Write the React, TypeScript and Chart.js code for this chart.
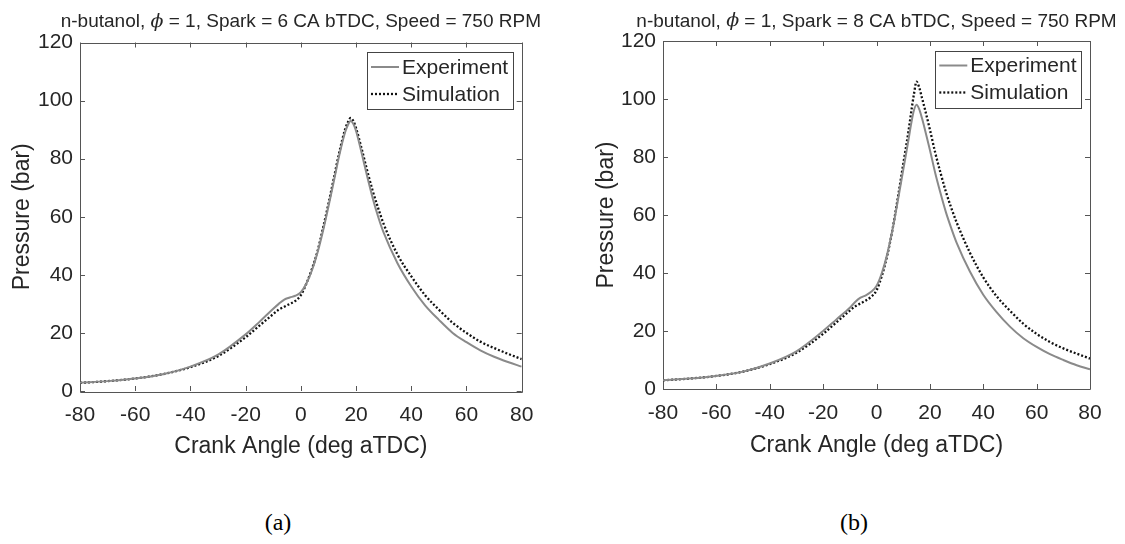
import React, { useEffect, useRef } from "react";
import { Chart, registerables } from "chart.js";

Chart.register(...registerables);

// ---- data ----
const crankAngle = [
  -80, -70, -60, -50, -40, -30, -20, -15, -10, -8, -6, -4, -2, 0, 2, 4, 6, 8, 10, 12, 14, 16, 17, 18, 19, 20,
  22, 24, 26, 28, 30, 35, 40, 45, 50, 55, 60, 65, 70, 75, 80,
];
const experimentA = [
  2.8, 3.4, 4.3, 5.8, 8.4, 12.5, 19.5, 23.8, 28.3, 30.0, 31.5, 32.2, 32.8, 34.0, 37.0, 41.5, 47.5, 55.0, 63.5,
  72.5, 81.5, 89.0, 91.5, 93.0, 92.0, 89.5, 82.0, 74.0, 66.5, 60.0, 54.5, 44.0, 36.0, 29.5, 24.5, 20.0, 16.8,
  14.0, 11.8, 10.0, 8.4,
];
const simulationA = [
  2.8, 3.4, 4.3, 5.8, 8.2, 12.0, 18.5, 22.5, 26.5, 28.0, 29.0, 30.0, 31.0, 33.0, 37.0, 42.0, 48.0, 56.0, 64.5,
  73.5, 82.5, 90.0, 92.5, 94.0, 93.0, 90.5, 83.5, 76.0, 69.0, 63.0, 57.5, 47.0, 39.5, 33.0, 28.0, 23.5, 20.0,
  17.0, 14.8, 12.8, 11.0,
];
const crankAngleB = [
  -80, -70, -60, -50, -40, -30, -20, -15, -10, -8, -6, -4, -2, 0, 2, 4, 6, 8, 10, 12, 13, 14, 15, 16, 17, 18,
  20, 22, 24, 26, 28, 30, 35, 40, 45, 50, 55, 60, 65, 70, 75, 80,
];
const experimentB = [
  3.0, 3.6, 4.5, 6.0, 8.8, 13.0, 20.0, 24.0, 28.0, 30.0, 31.5, 32.3, 33.5, 35.5, 40.0, 46.5, 55.0, 65.0, 75.5,
  86.0, 91.5, 96.0, 98.0, 96.5, 93.5, 90.0, 82.5, 74.5, 67.5, 61.0, 55.5, 50.5, 40.5, 32.5, 26.5, 21.5, 17.5,
  14.5, 12.0, 10.0, 8.2, 6.8,
];
const simulationB = [
  3.0, 3.6, 4.5, 6.0, 8.6, 12.5, 19.0, 23.0, 27.0, 28.5, 29.5, 30.5, 31.8, 34.0, 39.0, 46.0, 55.0, 66.0, 77.5,
  89.0, 95.5, 101.5, 106.0, 104.0, 100.5, 97.0, 89.5, 81.5, 74.5, 68.0, 62.5, 57.5, 47.0, 38.5, 32.0, 27.0,
  22.5, 19.0, 16.2, 14.0, 12.2, 10.5,
];
const seriesNames = ["Experiment", "Simulation"];
const titleA = ["n-butanol, ", "\u03d5", " = 1, Spark = 6 CA bTDC, Speed = 750 RPM"];
const titleB = ["n-butanol, ", "\u03d5", " = 1, Spark = 8 CA bTDC, Speed = 750 RPM"];
const xTitle = "Crank Angle (deg aTDC)";
const yTitle = "Pressure (bar)";
const xRange = [-80, 80];
const yRange = [0, 120];
const tickStep = 20;

const FONT = "'Liberation Sans', Arial, Helvetica, sans-serif";
const AXIS_COLOR = "#555555";
const TEXT_COLOR = "#262626";

const boxPlugin = {
  id: "matlabBox",
  beforeDatasetsDraw(chart: any) {
    const { ctx, chartArea: a, scales } = chart;
    ctx.save();
    ctx.strokeStyle = AXIS_COLOR;
    ctx.lineWidth = 1;
    ctx.beginPath();
    ctx.rect(Math.round(a.left) + 0.5, Math.round(a.top) + 0.5, Math.round(a.right - a.left), Math.round(a.bottom - a.top));
    ctx.stroke();
    const tl = 5;
    ctx.beginPath();
    scales.x.ticks.forEach((t: any) => {
      const px = Math.round(scales.x.getPixelForValue(t.value)) + 0.5;
      ctx.moveTo(px, a.bottom);
      ctx.lineTo(px, a.bottom - tl);
      ctx.moveTo(px, a.top);
      ctx.lineTo(px, a.top + tl);
    });
    scales.y.ticks.forEach((t: any) => {
      const py = Math.round(scales.y.getPixelForValue(t.value)) + 0.5;
      ctx.moveTo(a.left, py);
      ctx.lineTo(a.left + tl, py);
      ctx.moveTo(a.right, py);
      ctx.lineTo(a.right - tl, py);
    });
    ctx.stroke();
    ctx.restore();
  },
};

const titlePlugin = {
  id: "mixedTitle",
  afterDraw(chart: any, _args: any, opts: any) {
    const parts: string[] = opts.parts || [];
    const { ctx, chartArea: a } = chart;
    ctx.save();
    const normal = `19px ${FONT}`;
    const italic = `italic 19px 'DejaVu Serif', 'Liberation Serif', serif`;
    const fonts = parts.map((_p, i) => (i === 1 ? italic : normal));
    let total = 0;
    const widths = parts.map((p, i) => {
      ctx.font = fonts[i];
      const w = ctx.measureText(p).width;
      total += w;
      return w;
    });
    let x = (a.left + a.right) / 2 - total / 2;
    ctx.fillStyle = TEXT_COLOR;
    ctx.textBaseline = "middle";
    ctx.textAlign = "left";
    parts.forEach((p, i) => {
      ctx.font = fonts[i];
      ctx.fillText(p, x, opts.y);
      x += widths[i];
    });
    ctx.restore();
  },
};

const legendPlugin = {
  id: "insideLegend",
  afterDatasetsDraw(chart: any) {
    const { ctx, chartArea: a } = chart;
    const ds = chart.data.datasets;
    ctx.save();
    ctx.font = `21px ${FONT}`;
    let tw = 0;
    ds.forEach((d: any) => (tw = Math.max(tw, ctx.measureText(d.label).width)));
    const lineLen = 28;
    const w = 4 + lineLen + 3 + tw + 5;
    const rowH = 27;
    const h = 15 * 2 + rowH * (ds.length - 1);
    const right = a.right - 8.5;
    const top = a.top + 9.5;
    const left = right - w;
    ctx.fillStyle = "#ffffff";
    ctx.fillRect(left, top, w, h);
    ctx.strokeStyle = "#444444";
    ctx.lineWidth = 1;
    ctx.strokeRect(Math.round(left) + 0.5, Math.round(top) + 0.5, Math.round(w), Math.round(h));
    ds.forEach((d: any, i: number) => {
      const y = top + 15 + i * rowH;
      ctx.beginPath();
      ctx.strokeStyle = d.borderColor;
      ctx.lineWidth = d.borderWidth;
      ctx.setLineDash(d.borderDash || []);
      ctx.moveTo(left + 4, y);
      ctx.lineTo(left + 4 + lineLen, y);
      ctx.stroke();
      ctx.setLineDash([]);
      ctx.fillStyle = TEXT_COLOR;
      ctx.textBaseline = "middle";
      ctx.textAlign = "left";
      ctx.fillText(d.label, left + 4 + lineLen + 3, y + 1);
    });
    ctx.restore();
  },
};

type Geo = {
  width: number;
  height: number;
  yScaleWidth: number;
  xScaleHeight: number;
  padRight: number;
  padTop: number;
  titleY: number;
  yTitlePad: number;
  xTitlePadBottom: number;
};

function makeConfig(title: string[], xs: number[], exp: number[], sim: number[], g: Geo): any {
  return {
    type: "line",
    data: {
      datasets: [
        {
          label: seriesNames[0],
          data: xs.map((x, i) => ({ x, y: exp[i] })),
          borderColor: "#8a8a8a",
          borderWidth: 2,
          pointRadius: 0,
          cubicInterpolationMode: "monotone",
          fill: false,
        },
        {
          label: seriesNames[1],
          data: xs.map((x, i) => ({ x, y: sim[i] })),
          borderColor: "#111111",
          borderWidth: 2.3,
          borderDash: [2, 2],
          pointRadius: 0,
          cubicInterpolationMode: "monotone",
          fill: false,
        },
      ],
    },
    options: {
      responsive: false,
      animation: false,
      layout: { padding: { left: 0, right: g.padRight, top: g.padTop, bottom: 0 } },
      plugins: {
        legend: { display: false },
        tooltip: { enabled: false },
        title: { display: false },
        mixedTitle: { parts: title, y: g.titleY },
      },
      scales: {
        x: {
          type: "linear",
          min: xRange[0],
          max: xRange[1],
          grid: { display: false, drawTicks: false },
          border: { display: false },
          ticks: {
            stepSize: tickStep,
            padding: 11.5,
            color: TEXT_COLOR,
            font: { family: FONT, size: 21 },
            maxRotation: 0,
          },
          title: {
            display: true,
            text: xTitle,
            color: TEXT_COLOR,
            font: { family: FONT, size: 23 },
            padding: { top: 0, bottom: g.xTitlePadBottom },
          },
          afterFit(scale: any) {
            scale.height = g.xScaleHeight;
          },
        },
        y: {
          type: "linear",
          min: yRange[0],
          max: yRange[1],
          grid: { display: false, drawTicks: false },
          border: { display: false },
          ticks: {
            stepSize: tickStep,
            padding: 7,
            color: TEXT_COLOR,
            font: { family: FONT, size: 21 },
          },
          title: {
            display: true,
            text: yTitle,
            color: TEXT_COLOR,
            font: { family: FONT, size: 23 },
            padding: { top: g.yTitlePad, bottom: 0 },
          },
          afterFit(scale: any) {
            scale.width = g.yScaleWidth;
          },
        },
      },
    },
    plugins: [boxPlugin, legendPlugin, titlePlugin],
  };
}

function Panel(props: { title: string[]; xs: number[]; exp: number[]; sim: number[]; g: Geo; left: number }) {
  const ref = useRef<HTMLCanvasElement | null>(null);
  useEffect(() => {
    if (!ref.current) return;
    const chart = new Chart(ref.current, makeConfig(props.title, props.xs, props.exp, props.sim, props.g));
    return () => chart.destroy();
  }, []);
  return (
    <canvas
      ref={ref}
      width={props.g.width}
      height={props.g.height}
      style={{ position: "absolute", left: props.left, top: 0, width: props.g.width, height: props.g.height }}
    />
  );
}

const geoA: Geo = {
  width: 560,
  height: 470,
  yScaleWidth: 80,
  xScaleHeight: 79,
  padRight: 38.3,
  padTop: 42.5,
  titleY: 22,
  yTitlePad: 9.2,
  xTitlePadBottom: 9.2,
};
const geoB: Geo = {
  width: 565,
  height: 470,
  yScaleWidth: 103,
  xScaleHeight: 81,
  padRight: 35,
  padTop: 41,
  titleY: 21.5,
  yTitlePad: 33.2,
  xTitlePadBottom: 11,
};

export default function App() {
  const cap: React.CSSProperties = {
    position: "absolute",
    top: 507,
    width: 60,
    textAlign: "center",
    fontFamily: "'Liberation Serif', 'Times New Roman', serif",
    fontSize: 24,
    lineHeight: "30px",
    color: "#000",
  };
  return (
    <div style={{ position: "absolute", left: 0, top: 0, width: 1125, height: 544, background: "#fff", overflow: "hidden" }}>
      <Panel title={titleA} xs={crankAngle} exp={experimentA} sim={simulationA} g={geoA} left={0} />
      <Panel title={titleB} xs={crankAngleB} exp={experimentB} sim={simulationB} g={geoB} left={560} />
      <div style={{ ...cap, left: 278 - 30 }}>(a)</div>
      <div style={{ ...cap, left: 854 - 30 }}>(b)</div>
    </div>
  );
}
